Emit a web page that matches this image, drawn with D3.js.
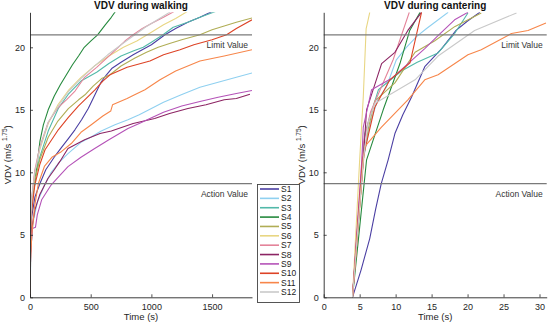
<!DOCTYPE html>
<html>
<head>
<meta charset="utf-8">
<script src="https://cdn.jsdelivr.net/npm/d3@7/dist/d3.min.js"></script>
<style>
  body { margin: 0; background: #fff; }
  svg { display: block; font-family: "Liberation Sans", Arial, sans-serif; }
</style>
</head>
<body>
<div id="chart"></div>
<script>
const seriesNames = ['S1', 'S2', 'S3', 'S4', 'S5', 'S6', 'S7', 'S8', 'S9', 'S10', 'S11', 'S12'];
const colors = ['#4b3fa3', '#8fd0f0', '#52b9a9', '#268a3e', '#b0ad55', '#e8d683', '#e4849a', '#8c2463',
  '#b553b8', '#dd4326', '#f7864a', '#c9c9c9'];

// walking: [time s, VDV]
const walkS1 = [[0,0],[5,4.5],[15,6.5],[40,8],[82,9.1],[130,10.2],[206,11.3],[260,12],[316,12.7],[370,13.4],[425,14.2],[480,15.1],[530,16.1],[585,17.2],[630,17.8],[673,18.3],[750,18.8],[850,19.4],[925,19.8],[1000,20.2],[1112,21],[1200,21.5],[1300,22],[1400,22.4],[1508,22.9]];
const walkS2 = [[0,0],[8,4],[25,6],[60,7.6],[121,9],[175,10],[240,10.8],[313,11.5],[420,12.4],[500,12.8],[587,13.3],[700,13.8],[807,14.2],[900,14.6],[1000,15.1],[1100,15.6],[1246,16.2],[1400,16.8],[1550,17.2],[1700,17.6],[1829,17.95]];
const walkS3 = [[0,0],[5,5],[15,7.5],[40,9.5],[80,11.2],[150,13.3],[233,15.1],[320,16.3],[420,17.3],[549,18],[650,18.7],[750,19.3],[850,19.7],[933,20],[1000,20.4],[1096,21],[1180,21.6],[1300,22],[1400,22.4],[1538,22.9]];
const walkS4 = [[0,0],[5,6],[15,8],[41,9.1],[50,10],[63,11],[82,12.5],[110,13.8],[150,15],[200,16.1],[250,17],[300,17.8],[350,18.6],[400,19.3],[447,20],[500,20.5],[557,21],[620,21.8],[670,22.4],[706,22.9]];
const walkS5 = [[0,0],[5,5],[15,7.5],[40,9.4],[80,11],[150,12.8],[230,14.1],[316,15.1],[400,15.8],[453,16.2],[520,16.9],[590,17.5],[659,17.8],[750,18.5],[865,19.15],[960,19.6],[1056,20],[1150,20.3],[1250,20.6],[1400,21],[1500,21.4],[1600,21.7],[1700,22],[1829,22.35]];
const walkS6 = [[0,0],[5,5.5],[15,8],[40,10],[80,11.8],[150,13.9],[230,15.4],[320,16.6],[420,17.6],[530,18.5],[650,19.3],[770,20],[880,20.5],[1000,21.2],[1100,21.8],[1200,22.3],[1302,22.9]];
const walkS7 = [[0,0],[5,5.5],[15,8],[40,10.2],[80,12],[150,14],[233,15.2],[300,15.8],[371,16.5],[450,17.6],[549,18.4],[650,19.3],[727,20],[782,20.5],[850,21],[925,21.5],[1000,21.9],[1100,22.4],[1194,22.9]];
const walkS8 = [[0,0],[5,3.5],[15,5.5],[40,7],[80,8.2],[148,9.5],[200,10.2],[245,10.85],[313,11.9],[450,12.6],[577,13.1],[670,13.3],[850,13.9],[1027,14.3],[1150,14.7],[1301,15.1],[1450,15.4],[1600,15.8],[1700,15.9],[1812,16.25]];
const walkS9 = [[0,0],[5,3.5],[20,5.5],[45,5.6],[60,6.6],[96,7.8],[175,9],[250,9.8],[313,10.45],[420,11.2],[533,11.9],[650,12.6],[807,13.5],[900,13.9],[988,14.3],[1100,14.8],[1250,15.3],[1400,15.67],[1550,16],[1700,16.3],[1829,16.55]];
const walkS10 = [[0,0],[5,5],[15,7],[40,9],[80,10.6],[124,11.8],[233,13.4],[316,14.4],[398,15.3],[535,16.6],[600,17.3],[659,17.8],[800,18.4],[988,18.9],[1100,19.4],[1236,19.8],[1350,20.2],[1500,20.6],[1620,21],[1700,21.5],[1829,22.2]];
const walkS11 = [[0,0],[5,3],[15,5],[40,7.4],[69,9.1],[120,10.5],[180,11.2],[258,11.65],[340,12.3],[420,13.2],[505,13.8],[600,14.5],[665,14.9],[680,15.4],[800,15.9],[862,16.2],[947,16.6],[1071,17.4],[1200,18.1],[1400,18.9],[1600,19.3],[1829,19.8]];
const walkS12 = [[0,0],[5,5.5],[15,8],[40,10],[80,11.9],[150,14],[233,15.3],[320,16.5],[420,17.5],[530,18.5],[640,19.4],[750,20.2],[850,20.9],[950,21.6],[1050,22.2],[1167,22.9]];
const walking = [walkS1, walkS2, walkS3, walkS4, walkS5, walkS6, walkS7, walkS8, walkS9, walkS10, walkS11, walkS12];

// cantering: [time s, VDV]
const cantS1 = [[4,0],[5.2,2.2],[6.4,4.7],[7.2,7],[8,9.1],[8.96,11],[9.9,13.1],[11,14.6],[12.2,16],[14.05,18.45],[16.4,19.9],[18.4,21.35],[20,22.1],[21.7,22.8]];
const cantS2 = [[4,0],[5.5,11],[6.5,14],[7.5,15.8],[8.7,16.8],[10.1,19],[11.5,20],[12.9,20.85],[14.3,21.5],[17.3,22.8]];
const cantS3 = [[4,0],[5.4,11],[5.7,13.1],[7.6,16.6],[10.8,18.1],[13,18.8],[15.9,19.55],[18.2,21.1],[20.05,22.75]];
const cantS4 = [[4,0],[5.96,11],[8.27,15],[10.6,18.7],[11.96,21.35],[13.4,22.8]];
const cantS5 = [[4,0],[5.5,11],[6.2,13.5],[7.1,15.7],[9.9,17.15],[12.7,19.6],[15.4,20.5],[18.2,21.65],[21.9,22.75]];
const cantS6 = [[4,0],[5,11],[5.5,16],[5.9,21.5],[6.1,22],[6.4,22.8]];
const cantS7 = [[4,0],[5.5,12.3],[6.5,14.8],[8,16.8],[9.65,19],[11.9,22.8]];
const cantS8 = [[4,0],[5.5,11],[5.96,15],[8.05,18.7],[9.9,19.6],[11.7,21.35],[13.6,22.8]];
const cantS9 = [[4,0],[5.3,11],[5.5,13.6],[6.65,16.6],[9.4,17.5],[14.05,19.9],[16,21],[18.2,22.2],[20.05,22.8]];
const cantS10 = [[4,0],[5.4,11],[7.1,15.2],[9.2,17.4],[12,18.75],[13.6,22.8]];
const cantS11 = [[4,0],[5.4,10],[5.7,12.05],[8,13.6],[11.7,15.8],[14.05,17.4],[15.9,17.8],[20.05,19.4],[21.9,19.8],[26.1,21.1],[28.4,21.35],[30.9,21.95]];
const cantS12 = [[4,0],[5.5,11],[6.2,14],[7.1,15.5],[12.7,17.4],[15.9,19.3],[20.98,21.35],[26.8,22.75]];
const cantering = [cantS1, cantS2, cantS3, cantS4, cantS5, cantS6, cantS7, cantS8, cantS9, cantS10, cantS11, cantS12];

const walkTicks = [0, 500, 1000, 1500];
const cantTicks = [0, 5, 10, 15, 20, 25, 30];
const vdvTicks = [0, 5, 10, 15, 20];
const limitValue = 21;
const actionValue = 9.1;

const W = 550, H = 327;
const plotTop = 12.3, plotBottom = 297.3;
const axisColor = '#262626';

const svg = d3.select('#chart').append('svg')
  .attr('width', W)
  .attr('height', H);

const y = d3.scaleLinear().domain([0, 22.8]).range([plotBottom, plotTop]);

function panel(id, left, right, xMax, ticks, data, title) {
  const x = d3.scaleLinear().domain([0, xMax]).range([left, right]);
  const g = svg.append('g');

  g.append('clipPath').attr('id', id)
    .append('rect')
    .attr('x', left).attr('y', plotTop)
    .attr('width', right - left).attr('height', plotBottom - plotTop);

  const line = d3.line().x(d => x(d[0])).y(d => y(d[1]));
  const lines = g.append('g').attr('clip-path', `url(#${id})`);
  data.forEach((s, i) => {
    lines.append('path')
      .attr('d', line(s))
      .attr('fill', 'none')
      .attr('stroke', colors[i])
      .attr('stroke-width', 1.1)
      .attr('stroke-linejoin', 'round');
  });

  // limit and action reference lines
  [limitValue, actionValue].forEach(v => {
    g.append('line')
      .attr('x1', left).attr('x2', right)
      .attr('y1', y(v)).attr('y2', y(v))
      .attr('stroke', '#7a7a7a')
      .attr('stroke-width', 1.2);
  });
  g.append('text')
    .attr('x', right - 4).attr('y', y(limitValue) + 13)
    .attr('text-anchor', 'end')
    .attr('font-size', 8.5).attr('fill', '#333')
    .text('Limit Value');
  g.append('text')
    .attr('x', right - 4).attr('y', y(actionValue) + 13)
    .attr('text-anchor', 'end')
    .attr('font-size', 8.5).attr('fill', '#333')
    .text('Action Value');

  const xAxis = g.append('g')
    .attr('transform', `translate(0,${plotBottom})`)
    .call(d3.axisBottom(x).tickValues(ticks).tickFormat(d3.format('d'))
      .tickSizeInner(-3).tickSizeOuter(0).tickPadding(6));
  const yAxis = g.append('g')
    .attr('transform', `translate(${left},0)`)
    .call(d3.axisLeft(y).tickValues(vdvTicks).tickFormat(d3.format('d'))
      .tickSizeInner(-3).tickSizeOuter(0).tickPadding(5));
  [xAxis, yAxis].forEach(a => {
    a.select('.domain').attr('stroke', axisColor).attr('stroke-width', 0.9);
    a.selectAll('.tick line').attr('stroke', axisColor).attr('stroke-width', 0.8);
    a.selectAll('.tick text').attr('font-size', 9).attr('fill', '#262626')
      .attr('font-family', '"Liberation Sans", Arial, sans-serif');
  });

  g.append('text')
    .attr('x', (left + right) / 2).attr('y', 9)
    .attr('text-anchor', 'middle')
    .attr('font-size', 10).attr('font-weight', 'bold').attr('fill', '#111')
    .text(title);

  g.append('text')
    .attr('x', (left + right) / 2).attr('y', 320)
    .attr('text-anchor', 'middle')
    .attr('font-size', 9.5).attr('fill', '#262626')
    .text('Time (s)');

  const yl = g.append('text')
    .attr('transform', `translate(${left - 19},${(plotTop + plotBottom) / 2}) rotate(-90)`)
    .attr('text-anchor', 'middle')
    .attr('font-size', 9.5).attr('fill', '#262626');
  yl.append('tspan').text('VDV (m/s ');
  yl.append('tspan').attr('font-size', 6.5).attr('dy', -4).text('1.75');
  yl.append('tspan').attr('dy', 4).text(')');
}

panel('clipWalk', 30, 252, 1829, walkTicks, walking, 'VDV during walking');
panel('clipCant', 323.7, 546.7, 31, cantTicks, cantering, 'VDV during cantering');

// legend
const lg = svg.append('g');
lg.append('rect')
  .attr('x', 257.5).attr('y', 184.5)
  .attr('width', 42).attr('height', 118)
  .attr('fill', '#fff')
  .attr('stroke', '#444').attr('stroke-width', 0.9);
const rowY = d3.scalePoint().domain(seriesNames).range([189, 292]);
seriesNames.forEach((n, i) => {
  lg.append('line')
    .attr('x1', 260).attr('x2', 279)
    .attr('y1', rowY(n)).attr('y2', rowY(n))
    .attr('stroke', colors[i]).attr('stroke-width', 1.6);
  lg.append('text')
    .attr('x', 281).attr('y', rowY(n) + 3)
    .attr('font-size', 8.5).attr('fill', '#222')
    .text(n);
});
</script>
</body>
</html>
